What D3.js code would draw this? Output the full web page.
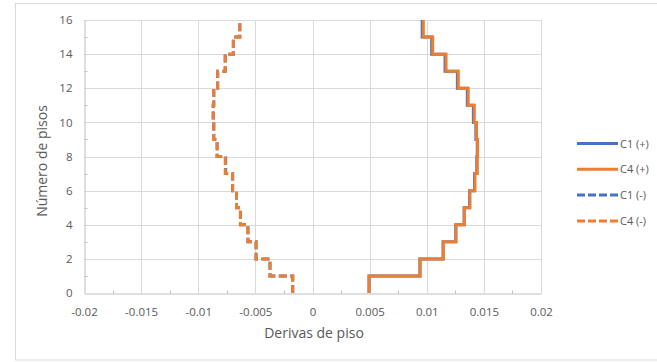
<!DOCTYPE html>
<html>
<head>
<meta charset="utf-8">
<script src="https://cdn.jsdelivr.net/npm/d3@7"></script>
<style>
  html, body { margin: 0; padding: 0; background: #fff; }
  svg { display: block; }
  text { font-family: "Open Sans", Lato, sans-serif; fill: #595959; }
</style>
</head>
<body>
<svg id="chart" width="657" height="362"></svg>
<script>
// ---- data ----
const stories = [1,2,3,4,5,6,7,8,9,10,11,12,13,14,15,16];
const c1Pos = [0.00495,0.00940,0.01143,0.01254,0.01327,0.01375,0.01418,0.01438,0.01442,0.01430,0.01408,0.01355,0.01268,0.01160,0.01043,0.00960];
const c4Pos = [0.00495,0.00942,0.01145,0.01256,0.01329,0.01378,0.01422,0.01442,0.01445,0.01436,0.01416,0.01363,0.01276,0.01169,0.01052,0.00970];
const c1Neg = [-0.00173,-0.00372,-0.00494,-0.00565,-0.00631,-0.00665,-0.00699,-0.00760,-0.00835,-0.00864,-0.00869,-0.00864,-0.00830,-0.00764,-0.00693,-0.00636];
const c4Neg = [-0.00173,-0.00372,-0.00494,-0.00565,-0.00631,-0.00665,-0.00699,-0.00764,-0.00835,-0.00864,-0.00869,-0.00864,-0.00830,-0.00764,-0.00693,-0.00636];
const xTicks = [-0.02,-0.015,-0.01,-0.005,0,0.005,0.01,0.015,0.02];
const xTickLabels = ["-0.02","-0.015","-0.01","-0.005","0","0.005","0.01","0.015","0.02"];
const xMinorTicks = [-0.0175,-0.0125,-0.0075,-0.0025,0.0025,0.0075,0.0125,0.0175];
const yTicks = [0,2,4,6,8,10,12,14,16];
const yMinorTicks = [1,3,5,7,9,11,13,15];
const seriesNames = ["C1 (+)","C4 (+)","C1 (-)","C4 (-)"];
const seriesColors = ["#4472C4","#ED7D31","#4472C4","#ED7D31"];
const seriesDashed = [false,false,true,true];
const seriesData = [c1Pos,c4Pos,c1Neg,c4Neg];

// ---- layout ----
const svg = d3.select("#chart");
const x = d3.scaleLinear().domain([-0.02,0.02]).range([84,541]);
const y = d3.scaleLinear().domain([0,16]).range([293,20]);

// outer border
svg.append("rect").attr("x",15.5).attr("y",3.5).attr("width",660).attr("height",356.5)
  .attr("fill","#fff").attr("stroke","#d9d9d9").attr("stroke-width",1);

// gridlines
const grid = svg.append("g");
grid.selectAll("line.v").data(xTicks.slice(1)).join("line")
  .attr("x1",d=>Math.round(x(d))+0.5).attr("x2",d=>Math.round(x(d))+0.5)
  .attr("y1",y(0)).attr("y2",y(16)).attr("stroke","#d9d9d9").attr("stroke-width",1);
grid.selectAll("line.h").data(yTicks.slice(1)).join("line")
  .attr("y1",d=>Math.round(y(d))+0.5).attr("y2",d=>Math.round(y(d))+0.5)
  .attr("x1",x(-0.02)).attr("x2",x(0.02)).attr("stroke","#d9d9d9").attr("stroke-width",1);

// axes
const xAxis = svg.append("g").attr("transform",`translate(0,${Math.round(y(0))+0.5})`)
  .call(d3.axisBottom(x).tickValues(xTicks).tickFormat((d,i)=>xTickLabels[i]).tickSize(0).tickPadding(14));
xAxis.select(".domain").attr("stroke","#bfbfbf");
xAxis.selectAll("text").attr("font-size","11.5px").attr("fill","#595959").style("font-family","'Open Sans', Lato, sans-serif");
xAxis.selectAll("line.minor").data(xMinorTicks).join("line").attr("class","minor")
  .attr("x1",d=>Math.round(x(d))+0.5).attr("x2",d=>Math.round(x(d))+0.5).attr("y1",0).attr("y2",-3)
  .attr("stroke","#bfbfbf");

const yAxis = svg.append("g").attr("transform",`translate(${Math.round(x(-0.02))+0.5},0)`)
  .call(d3.axisLeft(y).tickValues(yTicks).tickSize(0).tickPadding(12));
yAxis.select(".domain").attr("stroke","#bfbfbf");
yAxis.selectAll("text").attr("font-size","11.5px").attr("fill","#595959").style("font-family","'Open Sans', Lato, sans-serif");
yAxis.selectAll("line.minor").data(yMinorTicks).join("line").attr("class","minor")
  .attr("y1",d=>Math.round(y(d))+0.5).attr("y2",d=>Math.round(y(d))+0.5).attr("x1",0).attr("x2",3)
  .attr("stroke","#bfbfbf");

// axis titles
svg.append("text").attr("x",314).attr("y",338).attr("text-anchor","middle")
  .attr("font-size","14px").text("Derivas de piso");
svg.append("text").attr("transform","translate(47,161) rotate(-90)").attr("text-anchor","middle")
  .attr("font-size","14px").text("Número de pisos");

// step lines
function stepPoints(vals){
  const pts = [];
  vals.forEach((v,i)=>{ pts.push([v, stories[i]-1]); pts.push([v, stories[i]]); });
  return pts;
}
const line = d3.line().x(d=>x(d[0])).y(d=>y(d[1]));
seriesData.forEach((vals,i)=>{
  svg.append("path").attr("d",line(stepPoints(vals)))
    .attr("fill","none").attr("stroke",seriesColors[i]).attr("stroke-width",3)
    .attr("stroke-linejoin","miter")
    .attr("stroke-dasharray",seriesDashed[i] ? "8,3.5" : null);
});

// legend
const lg = svg.append("g");
seriesNames.forEach((name,i)=>{
  const ly = 143.5 + i*25.8;
  lg.append("line").attr("x1",577).attr("x2",618).attr("y1",ly).attr("y2",ly)
    .attr("stroke",seriesColors[i]).attr("stroke-width",3)
    .attr("stroke-dasharray",seriesDashed[i] ? "8,3" : null);
  lg.append("text").attr("x",620).attr("y",ly+4).attr("font-size","11px").text(name);
});
</script>
</body>
</html>
